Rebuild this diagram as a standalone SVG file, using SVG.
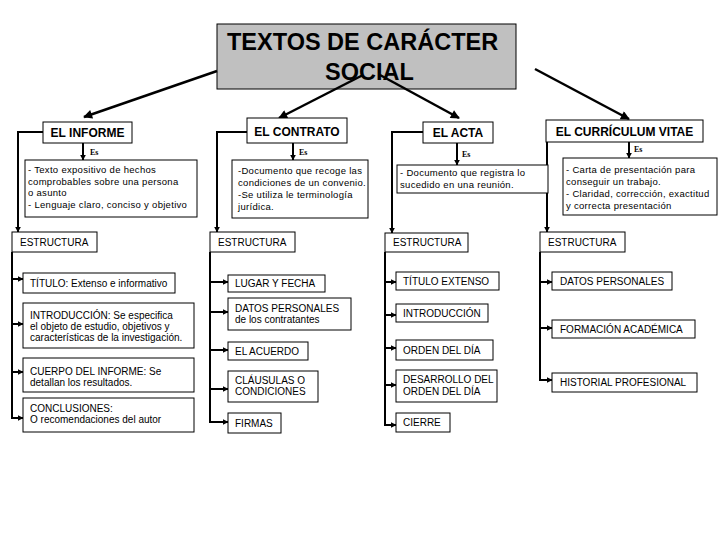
<svg xmlns="http://www.w3.org/2000/svg" width="720" height="540" viewBox="0 0 720 540">
<style>
.box{fill:#fff;stroke:#000;stroke-width:1}
.title{fill:#c0c0c0;stroke:#000;stroke-width:1}
.tt{font-family:"Liberation Sans",Arial,sans-serif;font-size:23.5px;font-weight:bold;fill:#000}
.hd{font-family:"Liberation Sans",Arial,sans-serif;font-size:12px;font-weight:bold;fill:#000}
.it{font-family:"Liberation Sans",Arial,sans-serif;font-size:10px;fill:#000}
.ds{font-family:"Liberation Sans",Arial,sans-serif;font-size:9.5px;letter-spacing:0.3px;fill:#000}
.es{font-family:"Liberation Serif","Times New Roman",serif;font-size:8px;font-weight:bold;fill:#000}
.ln{fill:none;stroke:#000;stroke-width:2}
.br{fill:none;stroke:#000;stroke-width:2;marker-end:url(#sa)}
.dg{fill:none;stroke:#000;stroke-width:2.5;marker-end:url(#la)}
</style>
<defs>
<marker id="la" viewBox="0 0 10 10" refX="9" refY="5" markerWidth="10" markerHeight="9" orient="auto" markerUnits="userSpaceOnUse"><path d="M0,0 L10,5 L0,10 z" fill="#000"/></marker>
<marker id="sa" viewBox="0 0 10 10" refX="9" refY="5" markerWidth="6" markerHeight="6" orient="auto" markerUnits="userSpaceOnUse"><path d="M0,0 L10,5 L0,10 z" fill="#000"/></marker>
</defs>
<rect width="720" height="540" fill="#fff"/>

<g id="title">
<rect class="title" x="217" y="24" width="299" height="65"/>
<text class="tt" x="227" y="50">TEXTOS DE CARÁCTER</text>
<text class="tt" x="325" y="80">SOCIAL</text>
</g>

<g id="connectors">
<line class="dg" x1="217" y1="71" x2="84" y2="117"/>
<line class="dg" x1="363" y1="75" x2="279" y2="118"/>
<line class="dg" x1="380" y1="75" x2="459" y2="118"/>
<line class="dg" x1="535" y1="69" x2="629" y2="119"/>
<line class="br" x1="83" y1="143" x2="83" y2="160"/>
<line class="br" x1="293" y1="143" x2="293" y2="160"/>
<line class="br" x1="457" y1="143" x2="457" y2="165"/>
<line class="br" x1="629" y1="142" x2="629" y2="158"/>
<polyline class="br" points="43,132 18,132 18,232"/>
<polyline class="br" points="247,132 217,132 217,232"/>
<polyline class="br" points="423,132 392,132 392,233"/>
<line class="br" x1="547" y1="142" x2="547" y2="232"/>
<line class="ln" x1="12" y1="252" x2="12" y2="419"/>
<line class="ln" x1="210" y1="252" x2="210" y2="423"/>
<line class="ln" x1="385" y1="252" x2="385" y2="426"/>
<line class="ln" x1="540" y1="252" x2="540" y2="381"/>
<line class="br" x1="12" y1="279" x2="23" y2="279"/>
<line class="br" x1="12" y1="324" x2="23" y2="324"/>
<line class="br" x1="12" y1="372" x2="23" y2="372"/>
<line class="br" x1="12" y1="418" x2="23" y2="418"/>
<line class="br" x1="210" y1="282" x2="228" y2="282"/>
<line class="br" x1="210" y1="312" x2="228" y2="312"/>
<line class="br" x1="210" y1="350" x2="228" y2="350"/>
<line class="br" x1="210" y1="389" x2="228" y2="389"/>
<line class="br" x1="210" y1="422" x2="228" y2="422"/>
<line class="br" x1="385" y1="282" x2="396" y2="282"/>
<line class="br" x1="385" y1="315" x2="396" y2="315"/>
<line class="br" x1="385" y1="348" x2="396" y2="348"/>
<line class="br" x1="385" y1="385" x2="396" y2="385"/>
<line class="br" x1="385" y1="425" x2="396" y2="425"/>
<line class="br" x1="540" y1="282" x2="552" y2="282"/>
<line class="br" x1="540" y1="328" x2="552" y2="328"/>
<line class="br" x1="540" y1="380" x2="552" y2="380"/>
</g>

<g id="es-labels">
<text class="es" x="90" y="155">Es</text>
<text class="es" x="299" y="155">Es</text>
<text class="es" x="462" y="157">Es</text>
<text class="es" x="634" y="152">Es</text>
</g>

<g id="informe">
<rect class="box" x="43" y="122" width="89" height="21"/>
<text class="hd" x="87.5" y="136.5" text-anchor="middle">EL INFORME</text>
</g>
<g id="informe-desc">
<rect class="box" x="25" y="160" width="172" height="57"/>
<text class="ds" x="28" y="173">- Texto expositivo de hechos</text>
<text class="ds" x="28" y="184.5">comprobables sobre una persona</text>
<text class="ds" x="28" y="196">o asunto</text>
<text class="ds" x="28" y="207.5">- Lenguaje claro, conciso y objetivo</text>
</g>
<g id="informe-estructura">
<rect class="box" x="12" y="232" width="85" height="20"/>
<text class="it" x="20" y="245.5">ESTRUCTURA</text>
</g>
<g id="informe-titulo">
<rect class="box" x="23" y="273" width="152" height="20"/>
<text class="it" x="30" y="286.5">TÍTULO: Extenso e informativo</text>
</g>
<g id="informe-intro">
<rect class="box" x="23" y="303" width="171" height="45"/>
<text class="it" x="30" y="318.5">INTRODUCCIÓN: Se especifica</text>
<text class="it" x="30" y="329.5">el objeto de estudio, objetivos y</text>
<text class="it" x="30" y="340.5">características de la investigación.</text>
</g>
<g id="informe-cuerpo">
<rect class="box" x="23" y="358" width="171" height="34"/>
<text class="it" x="30" y="374.5">CUERPO DEL INFORME:  Se</text>
<text class="it" x="30" y="385.5">detallan los resultados.</text>
</g>
<g id="informe-conclusiones">
<rect class="box" x="23" y="398" width="171" height="34"/>
<text class="it" x="30" y="411.5">CONCLUSIONES:</text>
<text class="it" x="30" y="422.5">O recomendaciones del autor</text>
</g>

<g id="contrato">
<rect class="box" x="247" y="118" width="100" height="25"/>
<text class="hd" x="297" y="135.5" text-anchor="middle">EL CONTRATO</text>
</g>
<g id="contrato-desc">
<rect class="box" x="232" y="160" width="136" height="58"/>
<text class="ds" x="238" y="174">-Documento que recoge las</text>
<text class="ds" x="238" y="186">condiciones de un convenio.</text>
<text class="ds" x="238" y="198">-Se utiliza le terminología</text>
<text class="ds" x="238" y="210">jurídica.</text>
</g>
<g id="contrato-estructura">
<rect class="box" x="210" y="232" width="85" height="20"/>
<text class="it" x="218" y="245.5">ESTRUCTURA</text>
</g>
<g id="contrato-lugar">
<rect class="box" x="228" y="275" width="97" height="17"/>
<text class="it" x="235" y="287">LUGAR Y FECHA</text>
</g>
<g id="contrato-datos">
<rect class="box" x="228" y="298" width="123" height="32"/>
<text class="it" x="235" y="311.5">DATOS PERSONALES</text>
<text class="it" x="235" y="322.5">de los contratantes</text>
</g>
<g id="contrato-acuerdo">
<rect class="box" x="228" y="342" width="80" height="18"/>
<text class="it" x="235" y="354.5">EL ACUERDO</text>
</g>
<g id="contrato-clausulas">
<rect class="box" x="228" y="371" width="90" height="31"/>
<text class="it" x="235" y="383.5">CLÁUSULAS O</text>
<text class="it" x="235" y="394.5">CONDICIONES</text>
</g>
<g id="contrato-firmas">
<rect class="box" x="228" y="413" width="53" height="20"/>
<text class="it" x="235" y="426.5">FIRMAS</text>
</g>

<g id="acta">
<rect class="box" x="423" y="122" width="70" height="21"/>
<text class="hd" x="458" y="136.5" text-anchor="middle">EL ACTA</text>
</g>
<g id="acta-desc">
<rect class="box" x="397" y="165" width="151" height="28"/>
<text class="ds" x="400" y="176">- Documento que registra lo</text>
<text class="ds" x="400" y="187.5">sucedido en una reunión.</text>
</g>
<g id="acta-estructura">
<rect class="box" x="385" y="233" width="83" height="19"/>
<text class="it" x="393" y="245.5">ESTRUCTURA</text>
</g>
<g id="acta-titulo">
<rect class="box" x="396" y="272" width="103" height="18"/>
<text class="it" x="403" y="284.5">TÍTULO EXTENSO</text>
</g>
<g id="acta-intro">
<rect class="box" x="396" y="304" width="92" height="18"/>
<text class="it" x="403" y="316.5">INTRODUCCIÓN</text>
</g>
<g id="acta-orden">
<rect class="box" x="396" y="340" width="97" height="20"/>
<text class="it" x="403" y="353.5">ORDEN DEL DÍA</text>
</g>
<g id="acta-desarrollo">
<rect class="box" x="396" y="370" width="101" height="32"/>
<text class="it" x="403" y="382.5">DESARROLLO DEL</text>
<text class="it" x="403" y="395">ORDEN DEL DÍA</text>
</g>
<g id="acta-cierre">
<rect class="box" x="396" y="413" width="54" height="19"/>
<text class="it" x="403" y="426">CIERRE</text>
</g>

<g id="curriculum">
<rect class="box" x="546" y="120" width="157" height="22"/>
<text class="hd" x="624.5" y="135.5" text-anchor="middle">EL CURRÍCULUM VITAE</text>
</g>
<g id="curriculum-desc">
<rect class="box" x="563" y="158" width="154" height="57"/>
<text class="ds" x="566" y="172.5">- Carta de presentación para</text>
<text class="ds" x="566" y="184.5">conseguir un trabajo.</text>
<text class="ds" x="566" y="196.5">- Claridad, corrección, exactitud</text>
<text class="ds" x="566" y="208.5">y correcta presentación</text>
</g>
<g id="curriculum-estructura">
<rect class="box" x="540" y="232" width="85" height="20"/>
<text class="it" x="548" y="245.5">ESTRUCTURA</text>
</g>
<g id="curriculum-datos">
<rect class="box" x="552" y="272" width="120" height="18"/>
<text class="it" x="560" y="284.5">DATOS PERSONALES</text>
</g>
<g id="curriculum-formacion">
<rect class="box" x="552" y="320" width="143" height="18"/>
<text class="it" x="560" y="332.5">FORMACIÓN ACADÉMICA</text>
</g>
<g id="curriculum-historial">
<rect class="box" x="552" y="373" width="145" height="19"/>
<text class="it" x="560" y="386">HISTORIAL PROFESIONAL</text>
</g>
</svg>
